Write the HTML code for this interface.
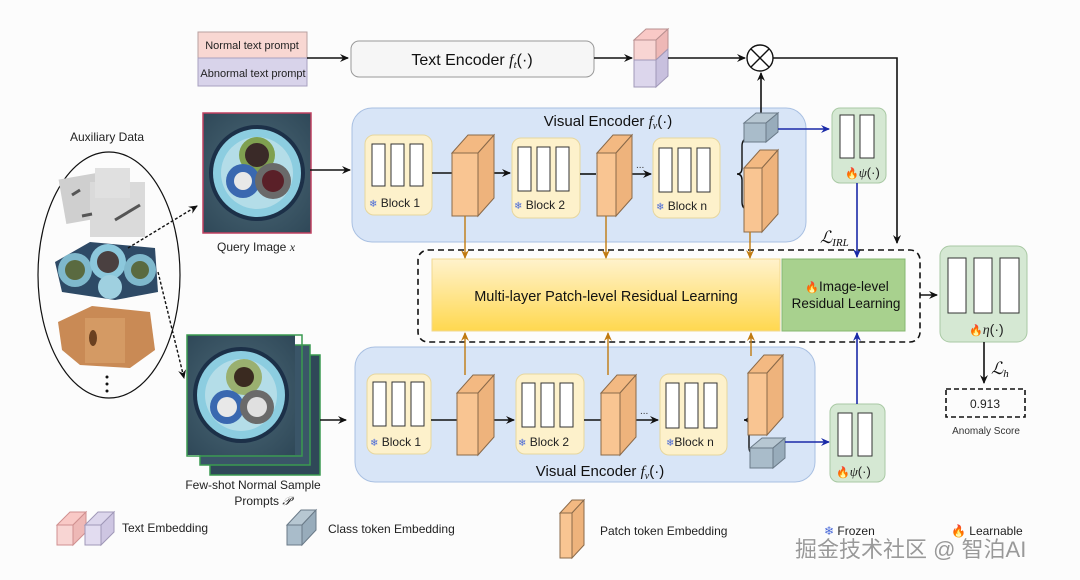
<!DOCTYPE html>
<html><head><meta charset="utf-8"><style>
html,body{margin:0;padding:0;background:#fcfcfc;}
svg{display:block;font-family:"Liberation Sans","Noto Sans CJK SC",sans-serif;}
.m{font-family:"Liberation Serif",serif;font-style:italic;}
</style></head><body>
<svg width="1080" height="580" viewBox="0 0 1080 580" xmlns="http://www.w3.org/2000/svg">
<defs>
<marker id="ak" markerWidth="10" markerHeight="10" refX="8" refY="5" orient="auto" markerUnits="userSpaceOnUse"><path d="M0,1 L9,5 L0,9 L3,5z" fill="#111"/></marker>
<marker id="ab" markerWidth="10" markerHeight="10" refX="8" refY="5" orient="auto" markerUnits="userSpaceOnUse"><path d="M0,1 L9,5 L0,9 L3,5z" fill="#1a2aa8"/></marker>
<marker id="ao" markerWidth="10" markerHeight="10" refX="8" refY="5" orient="auto" markerUnits="userSpaceOnUse"><path d="M0,1 L9,5 L0,9 L3,5z" fill="#c07a10"/></marker>
<linearGradient id="yg" x1="0" y1="0" x2="0" y2="1"><stop offset="0" stop-color="#fff2cc"/><stop offset="1" stop-color="#ffd84f"/></linearGradient>
<radialGradient id="bgimg" cx="0.5" cy="0.5" r="0.7"><stop offset="0" stop-color="#4d6a78"/><stop offset="1" stop-color="#2f4858"/></radialGradient>
<g id="cable">
<rect x="0" y="0" width="108" height="120" fill="url(#bgimg)"/>
<circle cx="54" cy="60" r="48" fill="#1c3048"/>
<circle cx="54" cy="60" r="44" fill="#8ccde0"/>
<circle cx="54" cy="60" r="36" fill="#b4dde8"/>
</g>
</defs>

<rect x="198" y="32" width="109" height="26" fill="#f8d7d2" stroke="#b8a0a0"/>
<rect x="198" y="58" width="109" height="28" fill="#d8d3ea" stroke="#a8a0c0"/>
<text x="252" y="49" font-size="11" text-anchor="middle" fill="#222">Normal text prompt</text>
<text x="253" y="77" font-size="11" text-anchor="middle" fill="#222">Abnormal text prompt</text>
<line x1="307" y1="58" x2="348" y2="58" stroke="#111" stroke-width="1.6" marker-end="url(#ak)"/>
<rect x="351" y="41" width="243" height="36" rx="8" fill="#f6f6f6" stroke="#999"/>
<text x="472" y="65" font-size="16" text-anchor="middle" fill="#111">Text Encoder <tspan class="m">f</tspan><tspan class="m" font-size="11" dy="3">t</tspan><tspan dy="-3">(·)</tspan></text>
<line x1="594" y1="58" x2="632" y2="58" stroke="#111" stroke-width="1.6" marker-end="url(#ak)"/>
<polygon points="634,40 646,29 668,29 656,40" fill="#f9c9c6" stroke="#b89090"/>
<rect x="634" y="40" width="22" height="20" fill="#f8d5d3" stroke="#b89090"/>
<polygon points="656,40 668,29 668,49 656,60" fill="#eeb8b6" stroke="#b89090"/>
<rect x="634" y="60" width="22" height="27" fill="#dcd6ec" stroke="#a098b8"/>
<polygon points="656,60 668,49 668,76 656,87" fill="#c8c0de" stroke="#a098b8"/>
<line x1="668" y1="58" x2="745" y2="58" stroke="#111" stroke-width="1.6" marker-end="url(#ak)"/>
<circle cx="760" cy="58" r="13" fill="#fff" stroke="#111" stroke-width="1.4"/>
<line x1="751" y1="49" x2="769" y2="67" stroke="#111" stroke-width="1.4"/><line x1="769" y1="49" x2="751" y2="67" stroke="#111" stroke-width="1.4"/>
<polyline points="773,58 897,58 897,243" fill="none" stroke="#111" stroke-width="1.6" marker-end="url(#ak)"/>

<rect x="352" y="108" width="454" height="134" rx="20" fill="#d8e5f7" stroke="#a9c0e2"/>
<text x="608" y="126" font-size="15" text-anchor="middle" fill="#111">Visual Encoder <tspan class="m">f</tspan><tspan class="m" font-size="10" dy="3">v</tspan><tspan dy="-3">(·)</tspan></text>
<g>
<rect x="365" y="135" width="67" height="80" rx="9" fill="#fdf1cb" stroke="#e6d69e"/>
<rect x="372" y="144" width="13" height="42" fill="#fff" stroke="#333"/><rect x="391" y="144" width="13" height="42" fill="#fff" stroke="#333"/><rect x="410" y="144" width="13" height="42" fill="#fff" stroke="#333"/>
<text x="369" y="207" font-size="12" fill="#222"><tspan fill="#4a6ad8" font-size="10">❄</tspan> Block 1</text>
</g>
<g>
<rect x="512" y="138" width="68" height="80" rx="9" fill="#fdf1cb" stroke="#e6d69e"/>
<rect x="518" y="147" width="13" height="44" fill="#fff" stroke="#333"/><rect x="537" y="147" width="13" height="44" fill="#fff" stroke="#333"/><rect x="556" y="147" width="13" height="44" fill="#fff" stroke="#333"/>
<text x="514" y="209" font-size="12" fill="#222"><tspan fill="#4a6ad8" font-size="10">❄</tspan> Block 2</text>
</g>
<g>
<rect x="653" y="138" width="67" height="80" rx="9" fill="#fdf1cb" stroke="#e6d69e"/>
<rect x="659" y="148" width="13" height="44" fill="#fff" stroke="#333"/><rect x="678" y="148" width="13" height="44" fill="#fff" stroke="#333"/><rect x="697" y="148" width="13" height="44" fill="#fff" stroke="#333"/>
<text x="656" y="210" font-size="12" fill="#222"><tspan fill="#4a6ad8" font-size="10">❄</tspan> Block n</text>
</g>
<line x1="432" y1="173" x2="452" y2="173" stroke="#111" stroke-width="1.6"/>
<line x1="494" y1="173" x2="510" y2="173" stroke="#111" stroke-width="1.6" marker-end="url(#ak)"/>
<line x1="580" y1="174" x2="596" y2="174" stroke="#111" stroke-width="1.6"/>
<line x1="632" y1="174" x2="651" y2="174" stroke="#111" stroke-width="1.6" marker-end="url(#ak)"/>
<text x="636" y="168" font-size="10" fill="#333">...</text>
<polygon points="452,153 468,135 494,135 478,153" fill="#f3b982" stroke="#8a6a4a"/>
<rect x="452" y="153" width="26" height="63" fill="#f9c592" stroke="#8a6a4a"/>
<polygon points="478,153 494,135 494,198 478,216" fill="#eeb37c" stroke="#8a6a4a"/>
<polygon points="597,153 613,135 632,135 616,153" fill="#f3b982" stroke="#8a6a4a"/>
<rect x="597" y="153" width="19" height="63" fill="#f9c592" stroke="#8a6a4a"/>
<polygon points="616,153 632,135 632,198 616,216" fill="#eeb37c" stroke="#8a6a4a"/>
<path d="M750,138 Q742,138 742,146 L742,168 Q742,174 737,174 Q742,174 742,180 L742,202 Q742,210 750,210" fill="none" stroke="#111" stroke-width="1.4"/>
<polyline points="761,117 761,73" fill="none" stroke="#111" stroke-width="1.6" marker-end="url(#ak)"/>
<polygon points="744,123 756,113 778,113 766,123" fill="#b7c7d2" stroke="#6a7a88"/>
<rect x="744" y="123" width="22" height="19" fill="#a9bcca" stroke="#6a7a88"/>
<polygon points="766,123 778,113 778,132 766,142" fill="#98acbb" stroke="#6a7a88"/>
<polygon points="744,168 760,150 778,150 762,168" fill="#f3b982" stroke="#8a6a4a"/>
<rect x="744" y="168" width="18" height="64" fill="#f9c592" stroke="#8a6a4a"/>
<polygon points="762,168 778,150 778,214 762,232" fill="#eeb37c" stroke="#8a6a4a"/>
<line x1="778" y1="129" x2="829" y2="129" stroke="#1a2aa8" stroke-width="1.6" marker-end="url(#ab)"/>
<rect x="832" y="108" width="54" height="75" rx="8" fill="#d5e8d3" stroke="#a9c9a4"/>
<rect x="840" y="115" width="14" height="43" fill="#fff" stroke="#333"/><rect x="860" y="115" width="14" height="43" fill="#fff" stroke="#333"/>
<text x="845" y="177" font-size="13" fill="#222"><tspan fill="#e02020" font-size="11">🔥</tspan><tspan class="m">ψ</tspan>(·)</text>
<line x1="857" y1="183" x2="857" y2="257" stroke="#1a2aa8" stroke-width="1.6" marker-end="url(#ab)"/>
<text x="820" y="243" font-size="17" class="m" fill="#111">ℒ<tspan font-size="11" dy="3">IRL</tspan></text>

<rect x="418" y="250" width="502" height="92" rx="10" fill="none" stroke="#111" stroke-width="1.6" stroke-dasharray="6,4"/>
<rect x="432" y="259" width="348" height="72" fill="url(#yg)" stroke="#f0d890"/>
<text x="606" y="301" font-size="14.5" text-anchor="middle" fill="#111">Multi-layer Patch-level Residual Learning</text>
<rect x="782" y="259" width="123" height="72" fill="#a8d18e" stroke="#86b870"/>
<text x="847" y="291" font-size="13.5" text-anchor="middle" fill="#111"><tspan fill="#e02020" font-size="11">🔥</tspan>Image-level</text>
<text x="846" y="308" font-size="13.5" text-anchor="middle" fill="#111">Residual Learning</text>
<line x1="920" y1="295" x2="937" y2="295" stroke="#111" stroke-width="1.6" marker-end="url(#ak)"/>
<line x1="465" y1="216" x2="465" y2="258" stroke="#c07a10" stroke-width="1.4" marker-end="url(#ao)"/>
<line x1="606" y1="216" x2="606" y2="258" stroke="#c07a10" stroke-width="1.4" marker-end="url(#ao)"/>
<line x1="750" y1="232" x2="750" y2="258" stroke="#c07a10" stroke-width="1.4" marker-end="url(#ao)"/>
<rect x="940" y="246" width="87" height="96" rx="10" fill="#d5e8d3" stroke="#a9c9a4"/>
<rect x="948" y="258" width="18" height="55" fill="#fff" stroke="#333"/><rect x="974" y="258" width="18" height="55" fill="#fff" stroke="#333"/><rect x="1000" y="258" width="19" height="55" fill="#fff" stroke="#333"/>
<text x="969" y="334" font-size="14" fill="#222"><tspan fill="#e02020" font-size="11">🔥</tspan><tspan class="m">η</tspan>(·)</text>
<line x1="984" y1="342" x2="984" y2="383" stroke="#111" stroke-width="1.6" marker-end="url(#ak)"/>
<text x="991" y="374" font-size="17" class="m" fill="#111">ℒ<tspan font-size="11" dy="3">h</tspan></text>
<rect x="946" y="389" width="79" height="28" fill="none" stroke="#111" stroke-width="1.6" stroke-dasharray="5,3"/>
<text x="985" y="408" font-size="12" text-anchor="middle" fill="#222">0.913</text>
<text x="986" y="434" font-size="10" text-anchor="middle" fill="#333">Anomaly Score</text>

<rect x="355" y="347" width="460" height="135" rx="20" fill="#d8e5f7" stroke="#a9c0e2"/>
<text x="600" y="476" font-size="15" text-anchor="middle" fill="#111">Visual Encoder <tspan class="m">f</tspan><tspan class="m" font-size="10" dy="3">v</tspan><tspan dy="-3">(·)</tspan></text>
<g>
<rect x="367" y="374" width="64" height="80" rx="9" fill="#fdf1cb" stroke="#e6d69e"/>
<rect x="373" y="382" width="13" height="44" fill="#fff" stroke="#333"/><rect x="392" y="382" width="13" height="44" fill="#fff" stroke="#333"/><rect x="411" y="382" width="13" height="44" fill="#fff" stroke="#333"/>
<text x="370" y="446" font-size="12" fill="#222"><tspan fill="#4a6ad8" font-size="10">❄</tspan> Block 1</text>
</g>
<g>
<rect x="516" y="374" width="68" height="80" rx="9" fill="#fdf1cb" stroke="#e6d69e"/>
<rect x="522" y="383" width="13" height="44" fill="#fff" stroke="#333"/><rect x="541" y="383" width="13" height="44" fill="#fff" stroke="#333"/><rect x="560" y="383" width="13" height="44" fill="#fff" stroke="#333"/>
<text x="518" y="446" font-size="12" fill="#222"><tspan fill="#4a6ad8" font-size="10">❄</tspan> Block 2</text>
</g>
<g>
<rect x="660" y="374" width="67" height="81" rx="9" fill="#fdf1cb" stroke="#e6d69e"/>
<rect x="666" y="383" width="13" height="45" fill="#fff" stroke="#333"/><rect x="685" y="383" width="13" height="45" fill="#fff" stroke="#333"/><rect x="704" y="383" width="13" height="45" fill="#fff" stroke="#333"/>
<text x="666" y="446" font-size="12" fill="#222"><tspan fill="#4a6ad8" font-size="10">❄</tspan>Block n</text>
</g>
<line x1="431" y1="420" x2="457" y2="420" stroke="#111" stroke-width="1.6"/>
<line x1="494" y1="420" x2="514" y2="420" stroke="#111" stroke-width="1.6" marker-end="url(#ak)"/>
<line x1="584" y1="420" x2="601" y2="420" stroke="#111" stroke-width="1.6"/>
<line x1="636" y1="420" x2="658" y2="420" stroke="#111" stroke-width="1.6" marker-end="url(#ak)"/>
<text x="640" y="414" font-size="10" fill="#333">...</text>
<polygon points="457,393 473,375 494,375 478,393" fill="#f3b982" stroke="#8a6a4a"/>
<rect x="457" y="393" width="21" height="62" fill="#f9c592" stroke="#8a6a4a"/>
<polygon points="478,393 494,375 494,437 478,455" fill="#eeb37c" stroke="#8a6a4a"/>
<polygon points="601,393 617,375 636,375 620,393" fill="#f3b982" stroke="#8a6a4a"/>
<rect x="601" y="393" width="19" height="62" fill="#f9c592" stroke="#8a6a4a"/>
<polygon points="620,393 636,375 636,437 620,455" fill="#eeb37c" stroke="#8a6a4a"/>
<path d="M757,390 Q749,390 749,398 L749,414 Q749,420 744,420 Q749,420 749,426 L749,447 Q749,455 757,455" fill="none" stroke="#111" stroke-width="1.4"/>
<polygon points="748,373 764,355 783,355 767,373" fill="#f3b982" stroke="#8a6a4a"/>
<rect x="748" y="373" width="19" height="62" fill="#f9c592" stroke="#8a6a4a"/>
<polygon points="767,373 783,355 783,417 767,435" fill="#eeb37c" stroke="#8a6a4a"/>
<polygon points="750,448 762,438 785,438 773,448" fill="#b7c7d2" stroke="#6a7a88"/>
<rect x="750" y="448" width="23" height="20" fill="#a9bcca" stroke="#6a7a88"/>
<polygon points="773,448 785,438 785,458 773,468" fill="#98acbb" stroke="#6a7a88"/>
<line x1="785" y1="442" x2="829" y2="442" stroke="#1a2aa8" stroke-width="1.6" marker-end="url(#ab)"/>
<line x1="465" y1="375" x2="465" y2="333" stroke="#c07a10" stroke-width="1.4" marker-end="url(#ao)"/>
<line x1="608" y1="375" x2="608" y2="333" stroke="#c07a10" stroke-width="1.4" marker-end="url(#ao)"/>
<line x1="751" y1="356" x2="751" y2="333" stroke="#c07a10" stroke-width="1.4" marker-end="url(#ao)"/>
<rect x="830" y="404" width="55" height="78" rx="8" fill="#d5e8d3" stroke="#a9c9a4"/>
<rect x="838" y="413" width="14" height="43" fill="#fff" stroke="#333"/><rect x="858" y="413" width="14" height="43" fill="#fff" stroke="#333"/>
<text x="836" y="476" font-size="13" fill="#222"><tspan fill="#e02020" font-size="11">🔥</tspan><tspan class="m">ψ</tspan>(·)</text>
<line x1="857" y1="404" x2="857" y2="333" stroke="#1a2aa8" stroke-width="1.6" marker-end="url(#ab)"/>

<text x="107" y="141" font-size="12" text-anchor="middle" fill="#222">Auxiliary Data</text>
<ellipse cx="109" cy="275" rx="71" ry="123" fill="none" stroke="#111" stroke-width="1.2"/>
<g>
<rect x="62" y="175" width="50" height="45" fill="#cfcfcf" transform="rotate(-10 87 197)"/>
<rect x="90" y="182" width="55" height="55" fill="#dadada"/>
<rect x="95" y="168" width="35" height="30" fill="#e0e0e0"/>
<line x1="115" y1="220" x2="140" y2="205" stroke="#555" stroke-width="3"/>
<line x1="72" y1="195" x2="80" y2="190" stroke="#555" stroke-width="3"/>
<line x1="82" y1="216" x2="92" y2="214" stroke="#555" stroke-width="3"/>
</g>
<g>
<polygon points="55,262 90,242 155,248 158,292 115,300 62,292" fill="#2e4a66"/>
<circle cx="75" cy="270" r="17" fill="#7fb8cc"/><circle cx="75" cy="270" r="10" fill="#5a6a40"/>
<circle cx="108" cy="262" r="18" fill="#8cc8dc"/><circle cx="108" cy="262" r="11" fill="#4a4040"/>
<circle cx="140" cy="270" r="16" fill="#7fb8cc"/><circle cx="140" cy="270" r="9" fill="#5a6a40"/>
<circle cx="110" cy="287" r="12" fill="#9fd0e0"/>
</g>
<g>
<polygon points="58,322 92,306 150,312 155,350 130,368 80,365 62,350" fill="#c98a55"/>
<rect x="85" y="318" width="40" height="45" fill="#d49a64"/>
<ellipse cx="93" cy="338" rx="4" ry="8" fill="#6a4020"/>
</g>
<circle cx="107" cy="377" r="1.5" fill="#111"/><circle cx="107" cy="384" r="1.5" fill="#111"/><circle cx="107" cy="391" r="1.5" fill="#111"/>
<line x1="128" y1="248" x2="197" y2="206" stroke="#111" stroke-width="1.4" stroke-dasharray="3,2" marker-end="url(#ak)"/>
<line x1="158" y1="272" x2="184" y2="378" stroke="#111" stroke-width="1.4" stroke-dasharray="3,2" marker-end="url(#ak)"/>

<g transform="translate(203,113)">
<use href="#cable"/>
<circle cx="54" cy="42" r="18" fill="#7fa050"/><circle cx="54" cy="42" r="12" fill="#3a2a28"/>
<circle cx="40" cy="68" r="17" fill="#3a68b0"/><circle cx="40" cy="68" r="9" fill="#e8e8e8"/>
<circle cx="70" cy="68" r="18" fill="#6a6a6a"/><circle cx="70" cy="68" r="11" fill="#5a2028"/>
<rect x="0" y="0" width="108" height="120" fill="none" stroke="#c04060" stroke-width="1.5"/>
</g>
<text x="256" y="251" font-size="12" text-anchor="middle" fill="#222">Query Image <tspan class="m">x</tspan></text>
<line x1="310" y1="170" x2="350" y2="170" stroke="#111" stroke-width="1.6" marker-end="url(#ak)"/>

<rect x="210" y="355" width="110" height="120" fill="#2f4858" stroke="#3a9a50" stroke-width="1.5"/>
<rect x="200" y="345" width="110" height="120" fill="#3a5568" stroke="#3a9a50" stroke-width="1.5"/>
<g transform="translate(187,335)">
<use href="#cable"/>
<circle cx="57" cy="42" r="18" fill="#9ab070"/><circle cx="57" cy="42" r="10" fill="#3a2a20"/>
<circle cx="40" cy="72" r="17" fill="#3a68b0"/><circle cx="40" cy="72" r="10" fill="#e8e8e8"/>
<circle cx="70" cy="72" r="17" fill="#6a6a6a"/><circle cx="70" cy="72" r="10" fill="#e0e0e0"/>
<rect x="0" y="0" width="115" height="121" fill="none" stroke="#3a9a50" stroke-width="1.5"/>
</g>
<line x1="320" y1="420" x2="346" y2="420" stroke="#111" stroke-width="1.6" marker-end="url(#ak)"/>
<text x="253" y="489" font-size="12" text-anchor="middle" fill="#222">Few-shot Normal Sample</text>
<text x="264" y="505" font-size="12" text-anchor="middle" fill="#222">Prompts <tspan class="m">𝒫′</tspan></text>

<polygon points="57,525 70,512 86,512 73,525" fill="#f9c9c6" stroke="#d09090"/>
<rect x="57" y="525" width="16" height="20" fill="#f8d5d3" stroke="#d09090"/>
<polygon points="73,525 86,512 86,532 73,545" fill="#eeb8b6" stroke="#d09090"/>
<polygon points="85,525 98,512 114,512 101,525" fill="#dcd6ec" stroke="#a098b8"/>
<rect x="85" y="525" width="16" height="20" fill="#e2dcf0" stroke="#a098b8"/>
<polygon points="101,525 114,512 114,532 101,545" fill="#cec6e2" stroke="#a098b8"/>
<text x="122" y="532" font-size="12" fill="#222">Text Embedding</text>
<polygon points="287,525 301,510 316,510 302,525" fill="#b7c7d2" stroke="#6a7a88"/>
<rect x="287" y="525" width="15" height="20" fill="#a9bcca" stroke="#6a7a88"/>
<polygon points="302,525 316,510 316,530 302,545" fill="#98acbb" stroke="#6a7a88"/>
<text x="328" y="533" font-size="12" fill="#222">Class token Embedding</text>
<polygon points="560,513 572,500 584,500 572,513" fill="#f3b982" stroke="#8a6a4a"/>
<rect x="560" y="513" width="12" height="45" fill="#f9c592" stroke="#8a6a4a"/>
<polygon points="572,513 584,500 584,545 572,558" fill="#eeb37c" stroke="#8a6a4a"/>
<text x="600" y="535" font-size="12" fill="#222">Patch token Embedding</text>
<text x="824" y="535" font-size="12" fill="#222"><tspan fill="#4a6ad8">❄</tspan> Frozen</text>
<text x="951" y="535" font-size="12" fill="#222"><tspan fill="#e02020">🔥</tspan> Learnable</text>
<text x="795" y="557" font-size="22" fill="#999" stroke="#fff" stroke-width="0.8" paint-order="stroke" font-family="'Liberation Sans','Noto Sans CJK SC',sans-serif">掘金技术社区 @ 智泊AI</text>
</svg>
</body></html>
